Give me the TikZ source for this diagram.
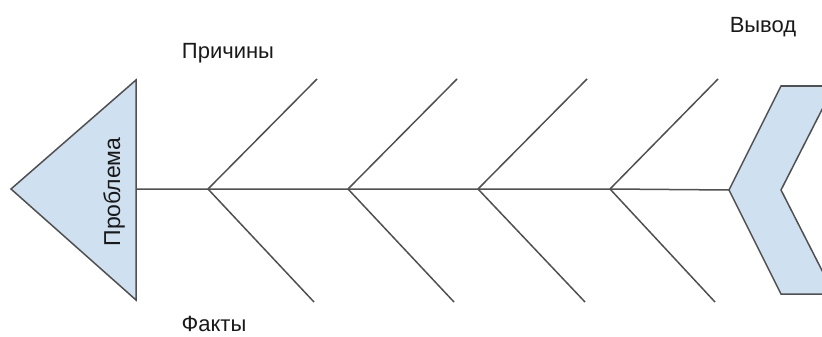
\documentclass[tikz,border=0pt]{standalone}
\usepackage{fontspec}
\setmainfont{Liberation Sans}
\definecolor{fishfill}{HTML}{CFE0F1}
\definecolor{fishline}{HTML}{505050}
\tikzset{
  bone/.style={draw=fishline, line width=1.5pt},
  shapebox/.style={draw=fishline, fill=fishfill, line width=1.5pt, line join=miter},
  lbl/.style={font=\fontsize{22}{25}\selectfont, text=black!90, inner sep=0pt}
}
\begin{document}
\begin{tikzpicture}[x=1pt,y=-1pt]
\useasboundingbox (0,0) rectangle (822,337);
\begin{scope}
\clip (0,0) rectangle (822,337);
% problem head
\coordinate (tipL) at (11,189);
\coordinate (headT) at (136,80);
\coordinate (headB) at (136,300);
\coordinate (headM) at (136,189);
\draw[shapebox] (tipL) -- (headT) -- (headB) -- cycle;
\node[lbl, font=\fontsize{23}{26}\selectfont, rotate=90] (problem) at (114,192) {Проблема};
% conclusion chevron
\coordinate (chevL) at (729,190);
\draw[shapebox] (chevL) -- (781,86) -- (834,86) -- (781,190) -- (834,294) -- (781,294) -- cycle;
% spine junctions
\coordinate (j1) at (208,189);
\coordinate (j2) at (348,189);
\coordinate (j3) at (478,189);
\coordinate (j4) at (610,189);
\draw[bone] (headM) -- (j1) -- (j2) -- (j3) -- (j4) -- (chevL);
% ribs
\coordinate (u1) at (317,79);  \coordinate (d1) at (314,302);
\coordinate (u2) at (457,79);  \coordinate (d2) at (454,302);
\coordinate (u3) at (587,79);  \coordinate (d3) at (585,302);
\coordinate (u4) at (718,79);  \coordinate (d4) at (715,302);
\foreach \i in {1,2,3,4}{
  \draw[bone] (j\i) -- (u\i);
  \draw[bone] (j\i) -- (d\i);
}
\end{scope}
% labels
\node[lbl] (causes) at (228,53) {Причины};
\node[lbl] (facts) at (214,324) {Факты};
\node[lbl] (concl) at (763,27) {Вывод};
\end{tikzpicture}
\end{document}
